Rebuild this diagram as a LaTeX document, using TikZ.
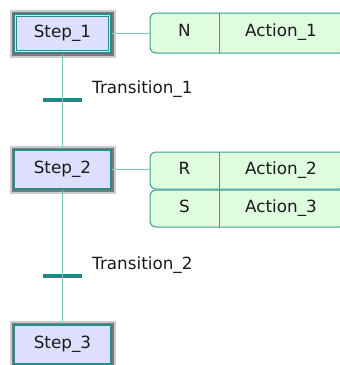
\documentclass[tikz,border=0pt]{standalone}
\usepackage{fontspec}
\setmainfont{DejaVu Sans}
\definecolor{stepfill}{HTML}{DEDFFC}
\definecolor{stepedge}{HTML}{2A8C8A}
\definecolor{frameout}{HTML}{CCCCCC}
\definecolor{framein}{HTML}{7A7A7A}
\definecolor{actfill}{HTML}{DFFCDF}
\definecolor{actedge}{HTML}{3C9C92}
\definecolor{linkcol}{HTML}{80C6C2}
\definecolor{barcol}{HTML}{1F8A84}
\definecolor{ink}{HTML}{1A1A1A}
\tikzset{
  lbl/.style={font=\fontsize{16.8}{19}\selectfont, text=ink, text height=0.729em, text depth=0pt, inner sep=0pt},
  stepbox/.style={lbl, rectangle, draw=stepedge, line width=1.3pt, fill=stepfill,
    minimum width=97pt, minimum height=39pt,
    preaction={draw=frameout, line width=9pt},
    preaction={draw=framein, line width=5pt}},
  actbox/.style={rectangle, draw=actedge, line width=1pt, fill=actfill, rounded corners=6pt,
    minimum width=195pt},
  qualcell/.style={lbl, minimum width=69pt},
  acttext/.style={lbl},
  divider/.style={draw=actedge, line width=1pt},
  link/.style={draw=linkcol, line width=1.4pt},
  trbar/.style={rectangle, fill=barcol, inner sep=0pt, minimum width=39pt, minimum height=4pt},
  trlabel/.style={lbl, anchor=west}
}
\begin{document}
\begin{tikzpicture}[x=1pt,y=-1pt]
\useasboundingbox (0,0) rectangle (340,365);
\clip (0,0) rectangle (340,365);

% steps
\node[stepbox] (s1) at (62.5,33.5) {Step\_1};
\draw[stepedge, line width=1pt] ([shift={(3pt,-3pt)}]s1.north west) rectangle ([shift={(-3pt,3pt)}]s1.south east);
\node[stepbox] (s2) at (62.5,169.5) {Step\_2};
\node[stepbox] (s3) at (62.5,344.5) {Step\_3};

% action blocks
\node[actbox, minimum height=40pt] (ab1) at (247.5,33) {};
\node[qualcell, minimum height=40pt] (q1) at (184.5,33) {N};
\node[acttext] (a1) at (281,33) {Action\_1};
\draw[divider] (q1.north east) -- (q1.south east);

\node[actbox, minimum height=37pt] (ab2) at (247.5,170.5) {};
\node[qualcell, minimum height=37pt] (q2) at (184.5,170.5) {R};
\node[acttext] (a2) at (281,170.5) {Action\_2};
\draw[divider] (q2.north east) -- (q2.south east);

\node[actbox, minimum height=37pt] (ab3) at (247.5,208.5) {};
\node[qualcell, minimum height=37pt] (q3) at (184.5,208.5) {S};
\node[acttext] (a3) at (281,208.5) {Action\_3};
\draw[divider] (q3.north east) -- (q3.south east);

% transitions
\node[trbar] (t1) at (62.5,100) {};
\node[trlabel] (tl1) at (92,90) {Transition\_1};
\node[trbar] (t2) at (62.5,276) {};
\node[trlabel] (tl2) at (92,266) {Transition\_2};

% connectors
\draw[link] (s1.south) -- (t1.center) -- (s2.north);
\draw[link] (s2.south) -- (t2.center) -- (s3.north);
\draw[link] (s1.east) -- (s1.east -| ab1.west);
\draw[link] (s2.east) -- (s2.east -| ab2.west);
\end{tikzpicture}
\end{document}
